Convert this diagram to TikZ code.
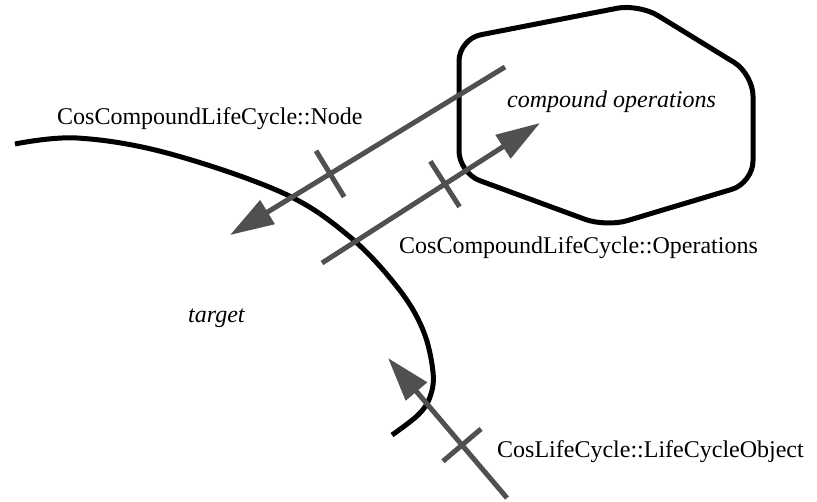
\documentclass[tikz,border=0pt]{standalone}
\usepackage{fontspec}
\setmainfont{Liberation Serif}
\usetikzlibrary{arrows.meta,calc}
\definecolor{arrowgray}{HTML}{505050}
\begin{document}
\begin{tikzpicture}[x=1pt,y=-1pt,
  conn/.style={draw=arrowgray, line width=5pt, -{Triangle[length=44pt,width=27pt]}},
  tickmark/.style={draw=arrowgray, line width=5pt},
  outline/.style={draw=black, line width=5pt},
  lbl/.style={inner sep=0pt, anchor=base west, font=\fontsize{24}{28}\selectfont}]
\useasboundingbox (0,0) rectangle (817,501);

% connector end points
\coordinate (nodeStart) at (505,67);
\coordinate (nodeTip) at (230,235);
\coordinate (opStart) at (322,263);
\coordinate (opTip) at (540,123);
\coordinate (lcStart) at (507,498);
\coordinate (lcTip) at (388,358);

% target boundary
\draw[outline] plot[smooth, tension=0.6] coordinates {(15,144) (77,138) (167,153) (283,193) (350,237) (398,288) (423,330) (433,372) (430,397) (418,415) (392,435)};

% compound operations blob
\draw[outline, rounded corners=22pt] (459,110) -- (459,39) -- (639,4) -- (753,74) -- (753,183) -- (606,227) -- (459,173) -- cycle;

% arrows
\draw[conn] (nodeStart) -- (nodeTip);
\draw[conn] (opStart) -- (opTip);
\draw[conn] (lcStart) -- (lcTip);

% ticks
\coordinate (nodeTick) at ($(nodeStart)!0.636!(nodeTip)$);
\draw[tickmark] ($(nodeTick)!27pt!90:(nodeTip)$) -- ($(nodeTick)!27pt!-90:(nodeTip)$);
\coordinate (opTick) at ($(opStart)!0.564!(opTip)$);
\draw[tickmark] ($(opTick)!27pt!90:(opTip)$) -- ($(opTick)!27pt!-90:(opTip)$);
\coordinate (lcTick) at ($(lcStart)!0.378!(lcTip)$);
\draw[tickmark] ($(lcTick)!25pt!90:(lcTip)$) -- ($(lcTick)!25pt!-90:(lcTip)$);

% labels
\node[lbl] (nodeLabel) at (57,124) {CosCompoundLifeCycle::Node};
\node[lbl] (compLabel) at (507,107) {\itshape compound operations};
\node[lbl] (opLabel) at (399,253) {CosCompoundLifeCycle::Operations};
\node[lbl] (targetLabel) at (188,322) {\itshape target};
\node[lbl] (lcLabel) at (497,457) {CosLifeCycle::LifeCycleObject};
\end{tikzpicture}
\end{document}
